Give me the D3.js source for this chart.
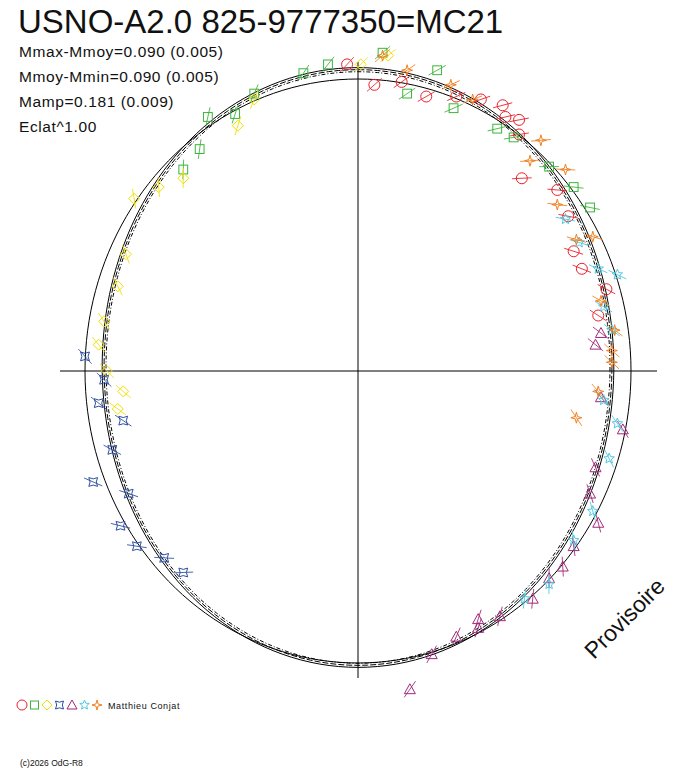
<!DOCTYPE html><html><head><meta charset="utf-8"><script src="https://cdn.jsdelivr.net/npm/d3@7"></script>
<style>body{margin:0;background:#fff}</style></head><body><svg id="c" width="688" height="768"></svg>
<script>
const title="USNO-A2.0 825-9777350=MC21";
const infoLines=["Mmax-Mmoy=0.090 (0.005)","Mmoy-Mmin=0.090 (0.005)","Mamp=0.181 (0.009)","Eclat^1.00"];
const observer="Matthieu Conjat";
const seriesNames=["circle","square","diamond","cross","triangle","star","star4"];
const seriesColors=["#e8202a","#3bb43b","#f0e000","#2c4ea0","#a02878","#50c8e0","#f08020"];
const red=[[-0.04,1.05],[0.06,0.98],[0.16,0.99],[0.25,0.94],[0.36,0.94],[0.45,0.93],[0.53,0.91],[0.59,0.86],[0.54,0.87],[0.59,0.81],[0.60,0.66],[0.73,0.62],[0.77,0.53],[0.79,0.41],[0.82,0.35],[0.91,0.28],[0.88,0.19]];
const green=[[0.09,1.09],[-0.11,1.05],[0.29,1.03],[0.18,0.95],[0.35,0.90],[0.51,0.83],[0.57,0.80],[0.70,0.70],[0.79,0.63],[0.85,0.56],[-0.45,0.88],[-0.55,0.87],[-0.64,0.69],[-0.38,0.95],[-0.20,1.02],[-0.58,0.76]];
const yellow=[[0.11,1.08],[0.01,1.05],[-0.44,0.84],[-0.64,0.66],[-0.82,0.59],[-0.73,0.63],[-0.85,0.40],[-0.88,0.29],[-0.93,0.17],[-0.95,0.09],[-0.92,0.0],[-0.86,-0.07],[-0.88,-0.13],[-0.38,0.93]];
const blue=[[-1.0,0.05],[-0.95,-0.11],[-0.86,-0.17],[-0.90,-0.27],[-0.97,-0.38],[-0.84,-0.42],[-0.87,-0.53],[-0.81,-0.60],[-0.71,-0.64],[-0.64,-0.69],[-0.93,-0.03]];
const purple=[[0.19,-1.09],[0.36,-0.91],[0.27,-0.97],[0.44,-0.88],[0.44,-0.85],[0.52,-0.84],[0.64,-0.78],[0.70,-0.71],[0.75,-0.67],[0.79,-0.60],[0.88,-0.52],[0.85,-0.42],[0.87,-0.33],[0.97,-0.20],[0.89,-0.09],[0.87,0.09],[0.89,0.13]];
const cyan=[[0.61,-0.78],[0.70,-0.73],[0.79,-0.58],[0.86,-0.48],[0.92,-0.30],[0.95,-0.18],[0.90,-0.10],[0.93,0.14],[0.90,0.22],[0.95,0.33],[0.88,0.35],[0.76,0.52],[0.81,0.44]];
const orange=[[0.09,1.08],[0.18,1.03],[0.34,0.98],[0.42,0.93],[0.63,0.72],[0.76,0.69],[0.67,0.79],[0.73,0.57],[0.86,0.46],[0.80,0.45],[0.89,0.24],[0.94,0.14],[0.93,0.03],[0.93,0.07],[0.80,-0.16],[0.88,-0.07]];
const seriesData=[red,green,yellow,blue,purple,cyan,orange];
const fitA0=[0.975,0.982,0.968], fitA1=[0.012,0.012,0.012], fitP1=[1.57,1.57,1.57], fitA2=[-0.045,-0.045,-0.045];
const fitDash=["6,2","none","4,2,1,2"];

const svg=d3.select("#c");
const x=d3.scaleLinear().domain([-1,1]).range([85,631]);
const y=d3.scaleLinear().domain([-1,1]).range([663,79]);
const cx=x(0), cy=y(0);
svg.append("line").attr("x1",60).attr("x2",657).attr("y1",cy).attr("y2",cy).attr("stroke","#000");
svg.append("line").attr("x1",cx).attr("x2",cx).attr("y1",62).attr("y2",678).attr("stroke","#000");
const angles=d3.range(0,361,2).map(d=>d*Math.PI/180);
const line=d3.line().x(d=>x(d[0])).y(d=>y(d[1]));
svg.append("path").attr("d",line(angles.map(a=>[Math.cos(a),Math.sin(a)]))).attr("fill","none").attr("stroke","#000").attr("stroke-width",1);
fitA0.forEach((a0,i)=>{
  const pts=angles.map(a=>{const r=a0+fitA1[i]*Math.cos(a-fitP1[i])+fitA2[i]*Math.cos(2*a);return [r*Math.cos(a),r*Math.sin(a)];});
  svg.append("path").attr("d",line(pts)).attr("fill","none").attr("stroke","#000").attr("stroke-width",1).attr("stroke-dasharray",fitDash[i]);
});
function marker(g,type,col,s){
  let el;
  if(type==="circle") el=g.append("circle").attr("r",s);
  else if(type==="square") el=g.append("rect").attr("x",-s*0.8).attr("y",-s*0.8).attr("width",s*1.6).attr("height",s*1.6);
  else if(type==="diamond") el=g.append("path").attr("d",`M0,${-s}L${s},0L0,${s}L${-s},0Z`);
  else if(type==="triangle") el=g.append("path").attr("d",`M0,${-s}L${s},${s*0.8}L${-s},${s*0.8}Z`);
  else if(type==="cross"){const k=s*0.8;el=g.append("path").attr("d",`M${-k},${-k}Q0,${-k*0.4} ${k},${-k}Q${k*0.4},0 ${k},${k}Q0,${k*0.4} ${-k},${k}Q${-k*0.4},0 ${-k},${-k}Z`);}
  else if(type==="star"){const p=d3.range(10).map(i=>{const a=i*Math.PI/5-Math.PI/2,r=i%2?s*0.45:s;return [r*Math.cos(a),r*Math.sin(a)];});el=g.append("path").attr("d","M"+p.join("L")+"Z");}
  else {const p=d3.range(8).map(i=>{const a=i*Math.PI/4-Math.PI/2,r=i%2?s*0.3:s;return [r*Math.cos(a),r*Math.sin(a)];});el=g.append("path").attr("d","M"+p.join("L")+"Z");}
  el.attr("fill","none").attr("stroke",col).attr("stroke-width",1);
}
seriesData.forEach((data,i)=>{
  data.forEach(d=>{
    const g=svg.append("g").attr("transform",`translate(${x(d[0])},${y(d[1])})`);
    marker(g,seriesNames[i],seriesColors[i],5.5);
    g.append("line").attr("x1",-7).attr("y1",7).attr("x2",7).attr("y2",-7).attr("stroke",seriesColors[i]).attr("stroke-width",0.8).attr("transform",`rotate(${Math.atan2(-d[1],d[0])*180/Math.PI+90})`);
  });
});
svg.append("text").attr("x",18).attr("y",33).attr("font-family","Liberation Sans, Arial").attr("font-size",33).attr("fill","#111").text(title);
infoLines.forEach((t,i)=>svg.append("text").attr("x",19).attr("y",57+i*25).attr("font-family","Liberation Sans, Arial").attr("font-size",15.5).attr("letter-spacing",0.6).attr("fill","#111").text(t));
seriesNames.forEach((n,i)=>{const g=svg.append("g").attr("transform",`translate(${22+i*12.5},705)`);marker(g,n,seriesColors[i],5);});
svg.append("text").attr("x",108).attr("y",709).attr("font-family","Liberation Sans, Arial").attr("font-size",9).attr("letter-spacing",0.6).attr("fill","#111").text(observer);
svg.append("text").attr("x",20).attr("y",766).attr("font-family","Liberation Sans, Arial").attr("font-size",8.5).attr("fill","#111").text("(c)2026 OdG-R8");
svg.append("text").attr("transform","translate(594,660) rotate(-45)").attr("font-family","Liberation Sans, Arial").attr("font-size",23).attr("fill","#111").text("Provisoire");
</script></body></html>
